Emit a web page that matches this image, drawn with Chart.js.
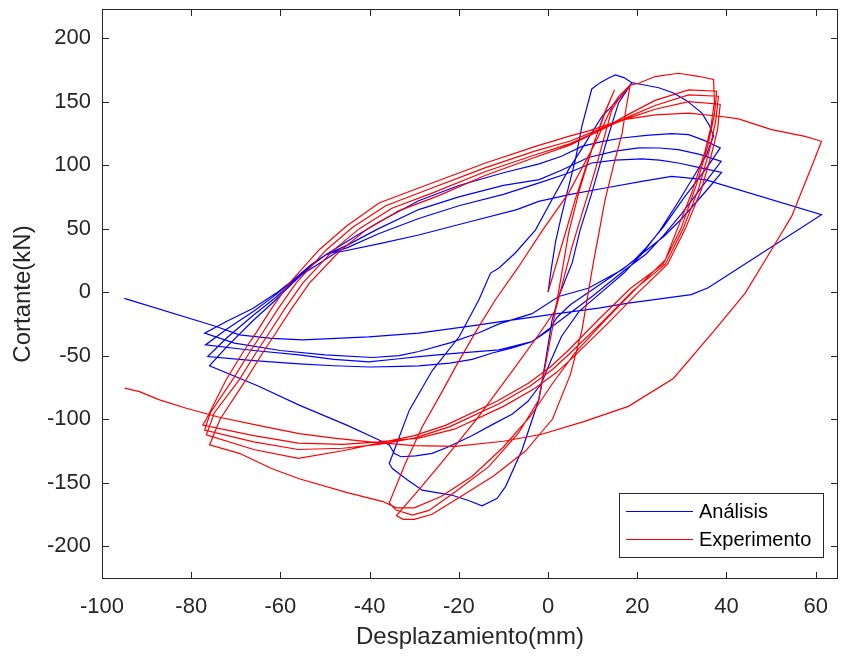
<!DOCTYPE html>
<html lang="es">
<head>
<meta charset="utf-8">
<title>Cortante vs Desplazamiento</title>
<script src="https://cdn.jsdelivr.net/npm/chart.js@4.4.1/dist/chart.umd.min.js"></script>
<style>
  html, body { margin: 0; padding: 0; background: #fff; }
  #wrap { width: 845px; height: 657px; }
</style>
</head>
<body>
<div id="wrap"><canvas id="grafica" width="845" height="657"></canvas></div>
<script>
'use strict';

/* ── Etiquetas y ejes ── */
const ETIQUETAS = ['Análisis', 'Experimento'];
const TICKS_X = [-100, -80, -60, -40, -20, 0, 20, 40, 60];
const TICKS_Y = [-200, -150, -100, -50, 0, 50, 100, 150, 200];

/* ── Análisis: [desplazamiento mm, cortante kN] ── */
const analisis = [
  /* carga inicial */
  [0,0],[0.8,20],[1.7,40],[3,60],[3.9,73],[6.1,104],[7.6,131],[9.8,160],[11.7,165],[13.5,168.5],[15.1,171],[17,169],[18.8,165],
  /* descarga */
  [15.8,149],[12.8,115],[9.8,78],[7.2,49],[5.4,23],[2.4,-3.5],[0.9,-22],[-0.6,-55],[-2.1,-85],[-5.8,-124],[-9.5,-153],[-11.4,-162.5],
  [-14.8,-168.3],[-18,-164],[-21.5,-160],[-25,-158],[-28.2,-156],[-31.5,-148],[-34.9,-139],[-35.6,-135],
  /* recarga */
  [-34,-120],[-31.1,-93],[-26,-62],[-19.9,-35],[-15.5,-6],[-12.9,15],[-11,19],[-7.3,31],[-2.8,49],[0.9,73],[4.6,96.5],[8.4,117.5],
  [12.1,138.5],[15.8,152],[18.8,165],
  [21,163.5],[24.8,161],[28,157],[31,151],[34.5,141],[36.2,131],[37.1,123],
  /* ciclo 1 */
  [35.5,108],[33,93],[29,70],[25,48],[21,30],[17,15],[12,0],[7,-15],[3,-35],[0.5,-55],[-1.5,-72],[-4.5,-86],[-8,-96],[-12.3,-104],
  [-17,-113],[-22.4,-122],[-26,-127],[-29.7,-129],[-33,-129.7],[-34.5,-127],[-35.6,-120.4],[-37.9,-116.5],
  [-45,-105],[-55.8,-89],[-65,-74],[-75.9,-58.1],
  /* ciclo 2 */
  [-72,-43],[-66,-22],[-61,-6],[-57,8],[-53,21],[-50,29],[-45,40],[-38,55],[-29,72],[-20,84],[-10,94],[-2,101],[3,107],[7.6,114.8],
  [12,118.5],[16.6,121.4],[22,123.5],[27.7,124.8],[31.5,124],[35,119.5],[38.6,113.6],
  [36,100],[33,86],[30,72],[26,52],[22,35],[19,24],[15,14],[10,2],[5,-10],[2,-20],[0.2,-30],[-3.6,-39],[-8,-44],[-12.5,-48],
  [-17,-53],[-22,-56],[-29,-58.1],[-33,-58.5],[-40,-59],[-48,-58],[-55.8,-56.5],[-66,-54],[-76.3,-50.8],
  /* ciclo 3 */
  [-72,-36],[-66,-18],[-61,-4],[-57,9],[-53,22],[-50,29],[-45,37],[-38,50],[-29,65],[-20,75],[-10,84],[-2,88.6],[3,96],[9,106],
  [15,111],[20.3,113.6],[25,113.5],[29.2,112.2],[34,108.5],[38.8,103],
  [36,90],[33,76],[30,62],[26,45],[22,30],[17.3,17.6],[10,-3],[3.9,-19.2],[-3.6,-39],[-11,-45.5],[-21.6,-48.5],[-29,-50.8],
  [-33.4,-52.5],[-40.2,-55],[-48,-53],[-55.8,-49.5],[-66,-46],[-76.8,-41.6],
  /* ciclo 4 */
  [-72,-29],[-66,-15],[-61,-2],[-57,10],[-53,22],[-50,29],[-45,35],[-38,46],[-29,58],[-20,68],[-10,77],[-2,86],[4,93],[9.8,101.7],
  [15,104],[21,104.9],[25,104],[29.2,101.7],[34,98],[38.9,94.3],
  [36,82],[33,70],[30,58],[26,44],[21,30],[16.6,17.6],[9,3],[2.4,-3.5],[-3.6,-17],[-11,-25],[-15.5,-32],[-22,-40],[-29,-46.8],
  [-33.4,-50],[-39.4,-51.5],[-50,-49.5],[-60,-46],[-70.3,-40.2],[-77,-32.3],
  /* ciclo final */
  [-72,-23],[-66.2,-13],[-61,-1],[-57,10],[-52,21],[-47.6,31],[-38,38],[-29,45],[-18,55],[-7,65],[-2.1,71.5],[5,77],[12.8,82],
  [21,87.2],[27.7,91.2],[35.2,88.6],[61.3,61],
  [35.9,3.4],[32.1,-2],[18,-8.7],[11.3,-12.6],[0.9,-17.5],[-11,-23.5],[-15.5,-25.8],[-29,-32.3],[-40.2,-35.3],[-55,-37.6],
  [-62,-36.5],[-69.2,-33.7],[-74.4,-27.1],[-95,-5]
];

/* ── Experimento: [desplazamiento mm, cortante kN] ── */
const experimento = [
  /* ciclos iniciales */
  [0,0],[2.5,30],[6.1,73],[10,115],[13.2,145],[14.9,159.3],
  [12.5,140],[9.8,112],[7,80],[4.6,46.5],[0.9,-29.7],[-1,-65],[-2.1,-85],[-6.6,-111],[-13.3,-137.5],[-20.7,-157],[-26.7,-172],
  [-30.4,-175.6],[-34.1,-171.7],[-35.6,-166],
  [-32,-135],[-28.2,-106],[-24,-80],[-20.7,-58.7],[-16,-30],[-11.8,-6],[-6.6,20],[-1,50],[4.6,78],[10.6,117.5],[14.3,146],
  [15.8,154],[18.4,163],
  [17.5,145],[16.6,125],[14.7,100],[12.8,73],[10,20],[7.6,-30],[5,-65],[1,-100],[-5,-125],[-12.3,-145],[-20,-162],[-26,-175],
  [-30,-179],[-32.5,-179],[-34,-176],
  [-30,-160],[-24,-135],[-16,-100],[-8,-62],[-2,-33],[1.7,-14],[5.4,36],[10.6,96.5],[14.3,143.8],[15.8,151.7],[18.4,163],
  [20.3,164.5],[24,169.8],[29.2,172.4],[33.7,170],[37.1,167.5],
  /* ciclo 1 */
  [37.3,150],[36.5,130],[35.2,111],[32.2,78],[29,50],[26.3,25.5],[19.5,2],[12,-25],[6,-48],[1,-72],[-4,-98],[-10,-122],
  [-17,-145],[-24,-161],[-30,-170],[-34,-170],[-37,-165],
  [-45,-158],[-55.8,-147],[-62,-139],[-69.2,-127],[-75.9,-120.4],
  /* ciclo 2 */
  [-73.5,-100],[-67.7,-69],[-64,-48],[-61,-32],[-57.5,-13],[-53.5,7],[-46.8,32],[-40.8,49],[-33.5,64],[-24.5,76],[-14,92],
  [-3,106],[5,116],[12,128],[18,140],[24,151],[31.5,159.3],[37.8,158.2],
  [37.3,140],[35.8,115],[33.3,85],[29.8,50],[25.8,22],[18.5,3],[11.5,-21],[4.5,-46],[0.5,-59],[-4.5,-72],[-11.5,-86],
  [-23,-105],[-30,-113],[-37.9,-119],[-46,-125],[-56,-131],[-66,-124],[-76.6,-112.5],
  /* ciclo 3 */
  [-74.8,-95],[-69.2,-69],[-65.5,-48],[-62.5,-32],[-59,-13],[-55,7],[-48.3,32.5],[-42.3,50],[-35,66],[-26,78],[-14,95],
  [-3,108],[5,117],[12,128],[18,138],[24,147],[31.5,155.4],[38.2,154.3],
  [37.6,135],[36.2,112],[33.8,82],[30.3,50],[26.3,22],[19,1],[12,-24],[5,-48],[1,-61],[-4,-74],[-11,-88],[-22,-106],
  [-30,-115],[-38,-120],[-46,-123],[-56,-124],[-66,-118],[-77,-108.6],
  /* ciclo 4 */
  [-75.7,-95],[-70.7,-69],[-67,-48],[-64,-32],[-60.5,-13],[-56.5,7],[-49.8,33],[-43.8,51],[-36.4,68],[-27.5,80],[-14,98],
  [-3,111],[5,119],[12,129],[18,137],[24,144],[31.5,150],[38.6,148],
  [38,128],[36.6,108],[34.3,80],[30.8,50],[26.8,22],[20,-1],[13,-26],[6,-50],[2,-63],[-3,-76],[-10,-90],[-21,-108],
  [-29,-115],[-38,-118],[-46,-120],[-56,-119],[-66,-113],[-77.4,-104.7],
  /* ciclo final */
  [-76.6,-100],[-72.2,-69.2],[-68.5,-48],[-65.5,-32.3],[-62,-13],[-58,7.1],[-51.3,33.4],[-45.3,51.7],[-37.9,70.2],[-29,82],
  [-14,101.7],[-2.8,114.8],[4.6,122.7],[9.1,127],[16.6,135.6],[24,139.6],[31.5,140.9],[38.9,138.3],[42.7,136.4],[50.1,128],
  [57.6,122.7],[61.3,118.8],
  [59.1,99],[54.6,59.6],[50.1,33.4],[44.2,-0.8],[37.4,-29.7],[28.1,-68],[18,-90],[8,-102],[-1.4,-112],[-10,-117.5],
  [-20.8,-121.5],[-30,-121],[-40,-118],[-48,-115],[-55.8,-111.5],[-65,-105],[-73.7,-98.6],[-81.1,-91.5],[-87.1,-84.9],
  [-91.6,-78.4],[-94.9,-75.7]
];

const FUENTE = "'Liberation Sans', Arial, Helvetica, sans-serif";
const GRIS = '#262626';
const COLORES = ['#0000ff', '#ff0000'];

/* caja, marcas hacia adentro y leyenda al estilo MATLAB */
const ejesMatlab = {
  id: 'ejesMatlab',
  afterDatasetsDraw(chart) {
    const { ctx, chartArea: a, scales: { x, y } } = chart;
    ctx.save();
    ctx.strokeStyle = GRIS;
    ctx.lineWidth = 1;
    ctx.beginPath();
    TICKS_X.forEach(v => {
      const px = Math.round(x.getPixelForValue(v)) + 0.5;
      ctx.moveTo(px, a.bottom); ctx.lineTo(px, a.bottom - 7);
      ctx.moveTo(px, a.top);    ctx.lineTo(px, a.top + 7);
    });
    TICKS_Y.forEach(v => {
      const py = Math.round(y.getPixelForValue(v)) + 0.5;
      ctx.moveTo(a.left, py);  ctx.lineTo(a.left + 7, py);
      ctx.moveTo(a.right, py); ctx.lineTo(a.right - 7, py);
    });
    ctx.stroke();
    ctx.strokeRect(a.left + 0.5, a.top + 0.5, a.right - a.left - 1, a.bottom - a.top - 1);

    /* leyenda */
    const x0 = Math.round(a.right) - 219, y0 = Math.round(a.bottom) - 86;
    ctx.fillStyle = '#fff';
    ctx.fillRect(x0, y0, 204, 64);
    ctx.strokeStyle = GRIS;
    ctx.strokeRect(x0 + 0.5, y0 + 0.5, 204, 64);
    ctx.font = '20px ' + FUENTE;
    ctx.textBaseline = 'middle';
    chart.data.datasets.forEach((ds, i) => {
      const yy = y0 + 18.5 + i * 28;
      ctx.strokeStyle = ds.borderColor;
      ctx.beginPath();
      ctx.moveTo(x0 + 7, yy); ctx.lineTo(x0 + 74, yy);
      ctx.stroke();
      ctx.fillStyle = '#000';
      ctx.fillText(ds.label, x0 + 80, yy + 1);
    });
    ctx.restore();
  }
};

const aPuntos = arr => arr.map(([x, y]) => ({ x, y }));

new Chart(document.getElementById('grafica').getContext('2d'), {
  type: 'scatter',
  data: {
    datasets: [
      { label: ETIQUETAS[0], data: aPuntos(analisis), showLine: true, borderColor: COLORES[0],
        borderWidth: 1.2, pointRadius: 0, tension: 0, fill: false, order: 1 },
      { label: ETIQUETAS[1], data: aPuntos(experimento), showLine: true, borderColor: COLORES[1],
        borderWidth: 1.2, pointRadius: 0, tension: 0, fill: false, order: 0 }
    ]
  },
  options: {
    responsive: false,
    animation: false,
    layout: { padding: { top: 9, right: 7, left: 0, bottom: 0 } },
    plugins: { legend: { display: false }, tooltip: { enabled: false } },
    scales: {
      x: {
        type: 'linear', min: -100, max: 65,
        afterBuildTicks: s => { s.ticks = TICKS_X.map(v => ({ value: v })); },
        afterFit: s => { s.height = 78; s.paddingLeft = 0; s.paddingRight = 0; },
        grid: { display: false, drawTicks: false },
        border: { display: false },
        ticks: { color: GRIS, font: { family: FUENTE, size: 22 }, padding: 15, maxRotation: 0, autoSkip: false },
        title: { display: true, text: 'Desplazamiento(mm)', color: GRIS, font: { family: FUENTE, size: 24 }, padding: { bottom: 5 } }
      },
      y: {
        type: 'linear', min: -226, max: 223,
        afterBuildTicks: s => { s.ticks = TICKS_Y.map(v => ({ value: v })); },
        afterFit: s => { s.width = 102; s.paddingTop = 0; s.paddingBottom = 0; },
        grid: { display: false, drawTicks: false },
        border: { display: false },
        ticks: { color: GRIS, font: { family: FUENTE, size: 22 }, padding: 11, autoSkip: false },
        title: { display: true, text: 'Cortante(kN)', color: GRIS, font: { family: FUENTE, size: 24 }, padding: { top: 9 } }
      }
    }
  },
  plugins: [ejesMatlab]
});
</script>
</body>
</html>
